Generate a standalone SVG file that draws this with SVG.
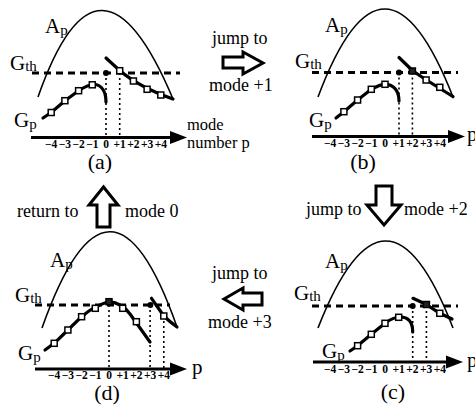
<svg xmlns="http://www.w3.org/2000/svg" width="475" height="410" viewBox="0 0 475 410">
<style>
text{font-family:"Liberation Serif","Times New Roman",serif;fill:#000}
.lab{font-size:18px}
.ml{font-size:16.5px}
.big{font-size:21px}
.sub{font-size:15px}
.tk{font-size:11.5px;text-anchor:middle;font-weight:bold}
.cap{font-size:22px;text-anchor:middle}
.par{fill:none;stroke:#000;stroke-width:1.6}
.gth{fill:none;stroke:#000;stroke-width:2.8;stroke-dasharray:7 5}
.gp{fill:none;stroke:#000;stroke-width:3.2;stroke-linejoin:round;stroke-linecap:round}
.dot{fill:none;stroke:#000;stroke-width:1.6;stroke-dasharray:2 3}
.ax{stroke:#000;stroke-width:3.2}
.sq{fill:#fff;stroke:#000;stroke-width:1.5}
.sqf{fill:#222;stroke:#000;stroke-width:1.5}
.blk{fill:#fff;stroke:#000;stroke-width:3;stroke-linejoin:miter}
</style>

<g id="panel-a">
<path class="par" d="M38,97 Q99,-77 173,99"/>
<line class="gth" x1="32" y1="73" x2="180" y2="73"/>
<path class="gp" d="M43,118 L51.2,112.5 L64.9,100.7 L78.6,90.7 C86,86 90,84.5 94,84.5 C102,84.5 106,92 106,102"/>
<path class="gp" d="M106,58 L119.7,70.5 C132,81 150,91 173,99"/>
<line class="dot" x1="106" y1="73" x2="106" y2="136"/>
<line class="dot" x1="119.7" y1="73" x2="119.7" y2="136"/>
<circle cx="106" cy="73" r="3"/>
<rect class="sq" x="48.2" y="109.5" width="6" height="6"/>
<rect class="sq" x="61.9" y="97.7" width="6" height="6"/>
<rect class="sq" x="75.6" y="87.7" width="6" height="6"/>
<rect class="sq" x="89.3" y="81.8" width="6" height="6"/>
<rect class="sq" x="116.7" y="67.7" width="6" height="6"/>
<rect class="sq" x="130.4" y="78" width="6" height="6"/>
<rect class="sq" x="144.1" y="86.3" width="6" height="6"/>
<rect class="sq" x="157.8" y="92" width="6" height="6"/>
<line class="ax" x1="31" y1="137.5" x2="172" y2="137.5"/>
<polygon points="170,131 187,137.5 170,144"/>
<text class="big" x="45" y="33">A<tspan class="sub" dy="2">p</tspan></text>
<text class="big" x="10" y="70">G<tspan class="sub" dy="1">th</tspan></text>
<text class="big" x="14" y="127">G<tspan class="sub" dy="2">p</tspan></text>
<text class="tk" x="51.2" y="148">−4</text><text class="tk" x="64.9" y="148">−3</text><text class="tk" x="78.6" y="148">−2</text><text class="tk" x="92.3" y="148">−1</text><text class="tk" x="106" y="148">0</text><text class="tk" x="119.7" y="148">+1</text><text class="tk" x="133.4" y="148">+2</text><text class="tk" x="147.1" y="148">+3</text><text class="tk" x="160.8" y="148">+4</text>
<text class="cap" x="100" y="169">(a)</text>
<text class="ml" x="187" y="130">mode</text>
<text class="ml" x="187" y="148">number p</text>
</g>

<g id="panel-b">
<path class="par" d="M318,97 Q384,-79 453,97"/>
<line class="gth" x1="312" y1="72.5" x2="458" y2="72.5"/>
<path class="gp" d="M336,118 L343.9,111.7 L357.6,100 L371.3,89.3 C377,86 381,84.3 385,84.3 C394,84.3 399,91 399,101"/>
<path class="gp" d="M399,57.5 L412.4,70.5 C424,79 438,87 453,96.7"/>
<line class="dot" x1="399" y1="72.5" x2="399" y2="135"/>
<line class="dot" x1="412.4" y1="72.5" x2="412.4" y2="135"/>
<circle cx="399" cy="72.5" r="3"/>
<rect class="sq" x="340.9" y="108.7" width="6" height="6"/>
<rect class="sq" x="354.6" y="97" width="6" height="6"/>
<rect class="sq" x="368.3" y="86.3" width="6" height="6"/>
<rect class="sq" x="382" y="81.3" width="6" height="6"/>
<rect class="sqf" x="409.4" y="68" width="6" height="6"/>
<rect class="sq" x="423.1" y="77" width="6" height="6"/>
<rect class="sq" x="436.8" y="84.3" width="6" height="6"/>
<line class="ax" x1="312" y1="136.5" x2="450" y2="136.5"/>
<polygon points="448,130 465,136.5 448,143"/>
<text class="big" x="325" y="32">A<tspan class="sub" dy="2">p</tspan></text>
<text class="big" x="295" y="68">G<tspan class="sub" dy="1">th</tspan></text>
<text class="big" x="309" y="127">G<tspan class="sub" dy="2">p</tspan></text>
<text class="tk" x="330.2" y="147">−4</text><text class="tk" x="343.9" y="147">−3</text><text class="tk" x="357.6" y="147">−2</text><text class="tk" x="371.3" y="147">−1</text><text class="tk" x="385" y="147">0</text><text class="tk" x="398.7" y="147">+1</text><text class="tk" x="412.4" y="147">+2</text><text class="tk" x="426.1" y="147">+3</text><text class="tk" x="439.8" y="147">+4</text>
<text class="cap" x="363" y="169">(b)</text>
<text class="big" x="467" y="141">p</text>
</g>

<g id="panel-c">
<path class="par" d="M318,328 Q386,154 453,328"/>
<line class="gth" x1="312" y1="306" x2="458" y2="306"/>
<path class="gp" d="M350,351 L357.6,345.7 L371.3,334.3 L385,323.3 C392,318 396,317 400,317 C408,317 412.7,322 412.7,332"/>
<path class="gp" d="M413,298.3 L426.4,304.5 L439.8,313.3 L452,319"/>
<line class="dot" x1="412.7" y1="306" x2="412.7" y2="360"/>
<line class="dot" x1="426.4" y1="306" x2="426.4" y2="360"/>
<circle cx="412.7" cy="306" r="3"/>
<rect class="sq" x="354.6" y="342.7" width="6" height="6"/>
<rect class="sq" x="368.3" y="331.3" width="6" height="6"/>
<rect class="sq" x="382" y="320.3" width="6" height="6"/>
<rect class="sq" x="395.7" y="314.3" width="6" height="6"/>
<rect class="sqf" x="423.4" y="301.5" width="6" height="6"/>
<rect class="sq" x="436.8" y="310.3" width="6" height="6"/>
<line class="ax" x1="313" y1="362" x2="448" y2="362"/>
<polygon points="446,355.5 463,362 446,368.5"/>
<text class="big" x="325" y="268">A<tspan class="sub" dy="2">p</tspan></text>
<text class="big" x="294" y="300">G<tspan class="sub" dy="1">th</tspan></text>
<text class="big" x="322" y="358">G<tspan class="sub" dy="2">p</tspan></text>
<text class="tk" x="330.2" y="373">−4</text><text class="tk" x="343.9" y="373">−3</text><text class="tk" x="357.6" y="373">−2</text><text class="tk" x="371.3" y="373">−1</text><text class="tk" x="385" y="373">0</text><text class="tk" x="398.7" y="373">+1</text><text class="tk" x="412.4" y="373">+2</text><text class="tk" x="426.1" y="373">+3</text><text class="tk" x="439.8" y="373">+4</text>
<text class="cap" x="393" y="399">(c)</text>
<text class="big" x="467" y="367">p</text>
</g>

<g id="panel-d">
<path class="par" d="M42,328 Q110,136 177,327"/>
<line class="gth" x1="35" y1="305" x2="170" y2="305"/>
<path class="gp" d="M45,350 L54.2,343.3 L67.9,330 L81.6,316.7 Q95,305 109,301.7 Q122,303 130,314 L150,342"/>
<path class="gp" d="M151.5,298.3 L163.8,316 Q170,322 177,327"/>
<line class="dot" x1="109" y1="305" x2="109" y2="368"/>
<line class="dot" x1="150.1" y1="305" x2="150.1" y2="368"/>
<line class="dot" x1="163.8" y1="316" x2="163.8" y2="368"/>
<circle cx="150.4" cy="305" r="3"/>
<rect class="sq" x="51.2" y="340.3" width="6" height="6"/>
<rect class="sq" x="64.9" y="327" width="6" height="6"/>
<rect class="sq" x="78.6" y="313.7" width="6" height="6"/>
<rect class="sq" x="92.3" y="305.3" width="6" height="6"/>
<rect class="sqf" x="106" y="298.7" width="6" height="6"/>
<rect class="sq" x="119.7" y="305.3" width="6" height="6"/>
<rect class="sq" x="133.4" y="318.7" width="6" height="6"/>
<rect class="sq" x="160.8" y="313" width="6" height="6"/>
<line class="ax" x1="35" y1="369" x2="172" y2="369"/>
<polygon points="170,362.5 187,369 170,375.5"/>
<text class="big" x="50" y="267">A<tspan class="sub" dy="2">p</tspan></text>
<text class="big" x="15" y="302">G<tspan class="sub" dy="1">th</tspan></text>
<text class="big" x="18" y="360">G<tspan class="sub" dy="2">p</tspan></text>
<text class="tk" x="54.2" y="379">−4</text><text class="tk" x="67.9" y="379">−3</text><text class="tk" x="81.6" y="379">−2</text><text class="tk" x="95.3" y="379">−1</text><text class="tk" x="109" y="379">0</text><text class="tk" x="122.7" y="379">+1</text><text class="tk" x="136.4" y="379">+2</text><text class="tk" x="150.1" y="379">+3</text><text class="tk" x="163.8" y="379">+4</text>
<text class="cap" x="107" y="400">(d)</text>
<text class="big" x="192" y="374">p</text>
</g>

<g id="connectors">
<polygon class="blk" points="223,57 243,57 243,52 263,63 243,74 243,68 223,68"/>
<polygon class="blk" points="376,186 392,186 392,205 401,205 384,225 367,205 376,205"/>
<polygon class="blk" points="262,293 243,293 243,288 224,299 243,310 243,305 262,305"/>
<polygon class="blk" points="97,227 110,227 110,205 118,205 103.5,187 89,205 97,205"/>
</g>
<g id="connector-labels">
<text class="lab" x="212" y="44">jump to</text>
<text class="lab" x="209" y="91">mode +1</text>
<text class="lab" x="17" y="217">return to</text>
<text class="lab" x="125" y="217">mode 0</text>
<text class="lab" x="306" y="215">jump to</text>
<text class="lab" x="404" y="215">mode +2</text>
<text class="lab" x="212" y="279">jump to</text>
<text class="lab" x="208" y="328">mode +3</text>
</g>
</svg>
